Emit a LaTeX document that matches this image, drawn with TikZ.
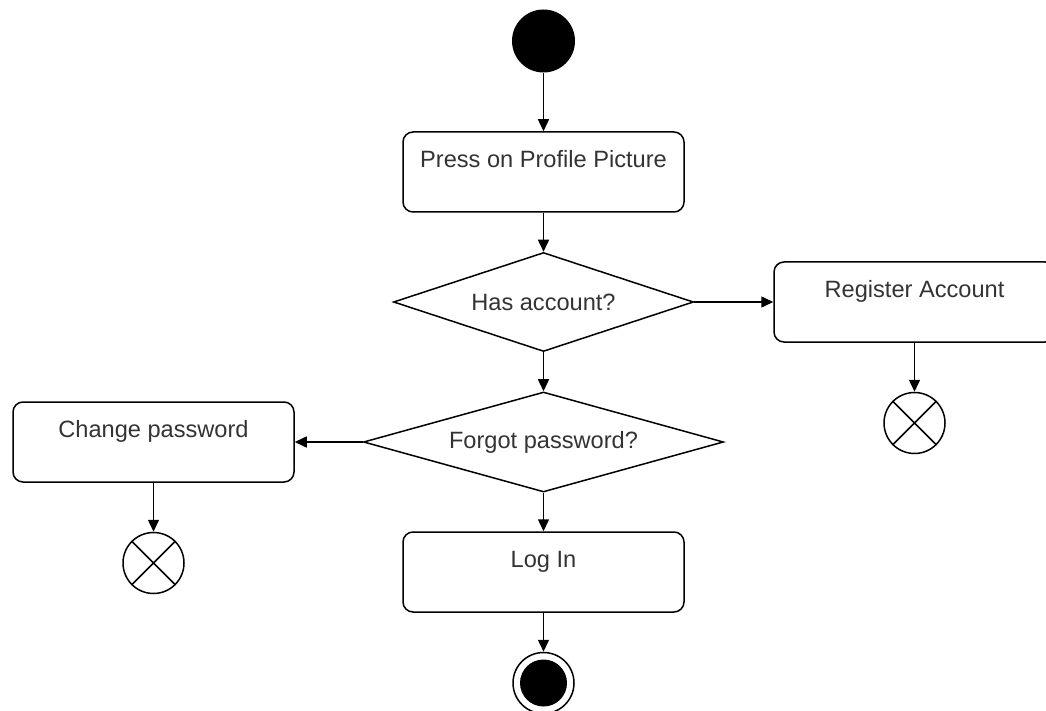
\documentclass[tikz,border=0pt]{standalone}
\usepackage{fontspec}
\setmainfont{Liberation Sans}
\usetikzlibrary{shapes.geometric,arrows.meta}
\definecolor{textgray}{HTML}{333333}
\begin{document}
\begin{tikzpicture}[x=1pt,y=-1pt,
  flow/.style={-{Triangle[length=12pt,width=11pt]}, line width=1.5pt},
  lbl/.style={font=\fontsize{23.6}{28}\selectfont, text=textgray},
  action/.style={lbl, draw, line width=1.5pt, rounded corners=10pt,
    minimum width=281pt, minimum height=80pt, inner sep=0pt,
    text height=16pt, text depth=25pt},
  decision/.style={lbl, draw, diamond, aspect=3, line width=1.5pt, inner sep=0pt},
  initial/.style={circle, fill=black, minimum size=63pt, inner sep=0pt},
  flowend/.style={circle, draw, line width=1.5pt, minimum size=61pt, inner sep=0pt},
  finalring/.style={circle, draw, line width=1.5pt, minimum size=61pt, inner sep=0pt},
  finalcore/.style={circle, fill=black, minimum size=47pt, inner sep=0pt},
]
\useasboundingbox (0,0) rectangle (1046,711);

% main column
\node[initial] (start) at (543.5,41) {};
\node[action] (press) at (543.5,172) {Press on Profile Picture};
\node[decision, minimum width=300pt, minimum height=99pt] (hasacc) at (543.5,302) {Has account?};
\node[decision, minimum width=360pt, minimum height=100pt] (forgot) at (543.5,442) {Forgot password?};
\node[action] (login) at (543.5,572) {Log In};
\node[finalring] (stop) at (543.5,683) {};
\node[finalcore] (stopcore) at (stop.center) {};

% side branches
\node[action] (register) at (914.5,302) {Register Account};
\node[flowend] (regend) at (914.5,423) {};
\node[action] (change) at (153.5,442) {Change password};
\node[flowend] (chgend) at (153.5,563) {};

% crosses of the flow-final markers
\foreach \n in {regend,chgend}{
  \draw[line width=1.5pt] (\n.45) -- (\n.225) (\n.135) -- (\n.-45);
}

% connectors
\draw[flow] (start) -- (press);
\draw[flow] (press) -- (hasacc);
\draw[flow] (hasacc.east) -- (register.west);
\draw[flow] (register) -- (regend);
\draw[flow] (hasacc) -- (forgot);
\draw[flow] (forgot.west) -- (change.east);
\draw[flow] (change) -- (chgend);
\draw[flow] (forgot) -- (login);
\draw[flow] (login) -- (stop);
\end{tikzpicture}
\end{document}
